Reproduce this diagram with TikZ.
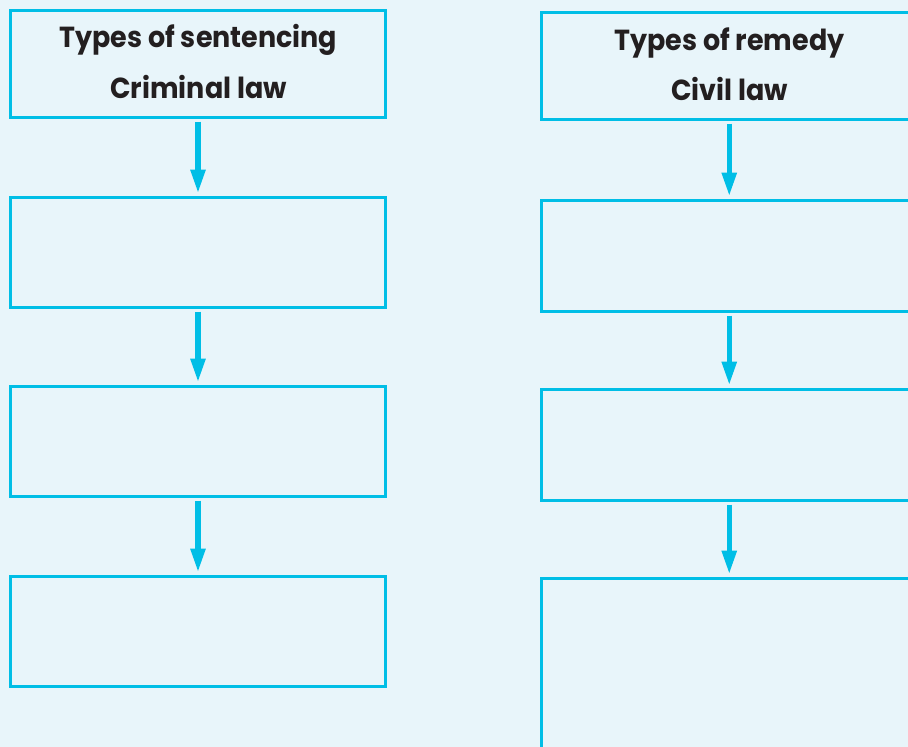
\documentclass[tikz,border=0pt]{standalone}
\usepackage{fontspec}
\setmainfont{Poppins}[FakeStretch=0.93]
\usetikzlibrary{arrows.meta}
\definecolor{bgblue}{HTML}{E8F5FA}
\definecolor{lawcyan}{HTML}{00BEE6}
\definecolor{inkdark}{HTML}{231F20}
\tikzset{
  lawbox/.style={draw=lawcyan, line width=3pt, rectangle, inner sep=0pt,
    outer sep=0pt, minimum width=#1},
  lawbox/.default=375pt,
  lawtitle/.style={anchor=base, inner sep=0pt, text=inkdark,
    font=\fontsize{29}{34}\selectfont\bfseries},
  flowarrow/.style={draw=lawcyan, line width=5.5pt,
    -{Triangle[width=14pt,length=24pt]}, shorten <=4pt, shorten >=4pt}
}
\begin{document}
\begin{tikzpicture}[x=1pt, y=-1pt]
  \useasboundingbox (0,0) rectangle (908,747);
  \fill[bgblue] (0,0) rectangle (908,747);
  \clip (0,0) rectangle (908,747);

  % criminal law column
  \node[lawbox, minimum height=107pt]   (L1) at (198,64) {};
  \node[lawbox, minimum height=110pt]   (L2) at (198,252.5) {};
  \node[lawbox, minimum height=110pt]   (L3) at (198,441.5) {};
  \node[lawbox, minimum height=109.5pt] (L4) at (198,631.25) {};
  \node[lawtitle] (Lt1) at (198.5,47) {Types of sentencing};
  \node[lawtitle] (Lt2) at (198.5,98) {Criminal law};
  \draw[flowarrow] (L1.south) -- (L2.north);
  \draw[flowarrow] (L2.south) -- (L3.north);
  \draw[flowarrow] (L3.south) -- (L4.north);

  % civil law column
  \node[lawbox=375.5pt, minimum height=107pt]   (R1) at (729.25,66) {};
  \node[lawbox=375.5pt, minimum height=111pt]   (R2) at (729.25,256) {};
  \node[lawbox=375.5pt, minimum height=111pt]   (R3) at (729.25,445) {};
  \node[lawbox=375.5pt, minimum height=221.5pt] (R4) at (729.25,689.25) {};
  \node[lawtitle] (Rt1) at (729.5,50) {Types of remedy};
  \node[lawtitle] (Rt2) at (729.5,100) {Civil law};
  \draw[flowarrow] (R1.south) -- (R2.north);
  \draw[flowarrow] (R2.south) -- (R3.north);
  \draw[flowarrow] (R3.south) -- (R4.north);
\end{tikzpicture}
\end{document}
